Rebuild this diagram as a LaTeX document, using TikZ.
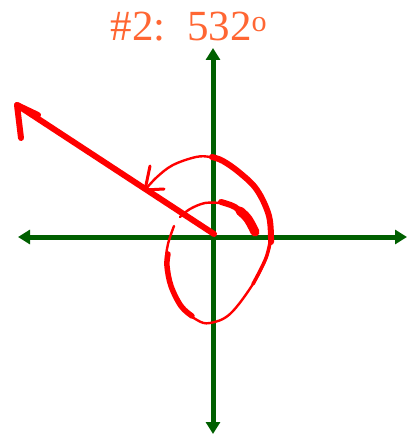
\documentclass[tikz,border=0pt]{standalone}
\usepackage{fontspec}
\setmainfont{Liberation Serif}
\usetikzlibrary{arrows.meta}
\definecolor{axisgreen}{RGB}{0,95,0}
\definecolor{titleorange}{RGB}{255,102,51}
\definecolor{penred}{RGB}{255,0,0}

\begin{document}
\begin{tikzpicture}[x=1pt,y=-1pt,
    axis/.style={axisgreen,line width=5pt,{Triangle[width=14pt,length=12pt]}-{Triangle[width=14pt,length=12pt]}},
    pen/.style={penred,line cap=round,line join=round}]
  \useasboundingbox (0,0) rectangle (408,436);

  % title
  \node[titleorange,font=\fontsize{43}{46}\selectfont] (title) at (189,27) {\#2:\ \ 532\textsuperscript{o}};

  % axes
  \draw[axis] (18,237) -- (407,237);
  \draw[axis] (213,48) -- (213,434);

  % terminal side
  \draw[pen,line width=6pt] (214,234) -- (17,105);
  \draw[pen,line width=6pt] (38,115) -- (17,105) -- (21,138);

  % spiral, thin base stroke
  \draw[pen,line width=2.4pt] plot[smooth,tension=0.6] coordinates {
    (220,203) (205,203) (190,209) (180,217)};
  \draw[pen,line width=2.4pt] plot[smooth,tension=0.6] coordinates {
    (174,226) (168,244) (166,262) (170,283) (180,306) (197,320) (210,323)
    (230,314) (253,284) (266,258) (271,237) (269,216) (257,190) (240,173)
    (223,161) (210,157) (196,157) (173,165) (157,177) (145,190)};

  % spiral, heavy strokes
  \draw[pen,line width=6pt] plot[smooth,tension=0.6] coordinates {
    (221,202) (235,207) (246,217)};
  \draw[pen,line width=9pt] plot[smooth,tension=0.6] coordinates {
    (240,211) (248,219) (255,232)};
  \draw[pen,line width=5.5pt] plot[smooth,tension=0.6] coordinates {
    (168,254) (167,266) (171,286) (181,306) (192,316)};
  \draw[pen,line width=3.5pt] plot[smooth,tension=0.6] coordinates {
    (253,284) (266,258) (271,237)};
  \draw[pen,line width=6pt] plot[smooth,tension=0.6] coordinates {
    (271,242) (269,216) (257,190) (240,173) (223,161) (212,157)};

  % spiral arrow head
  \draw[pen,line width=3pt] (150,166) -- (145,190) -- (164,189);
\end{tikzpicture}
\end{document}
